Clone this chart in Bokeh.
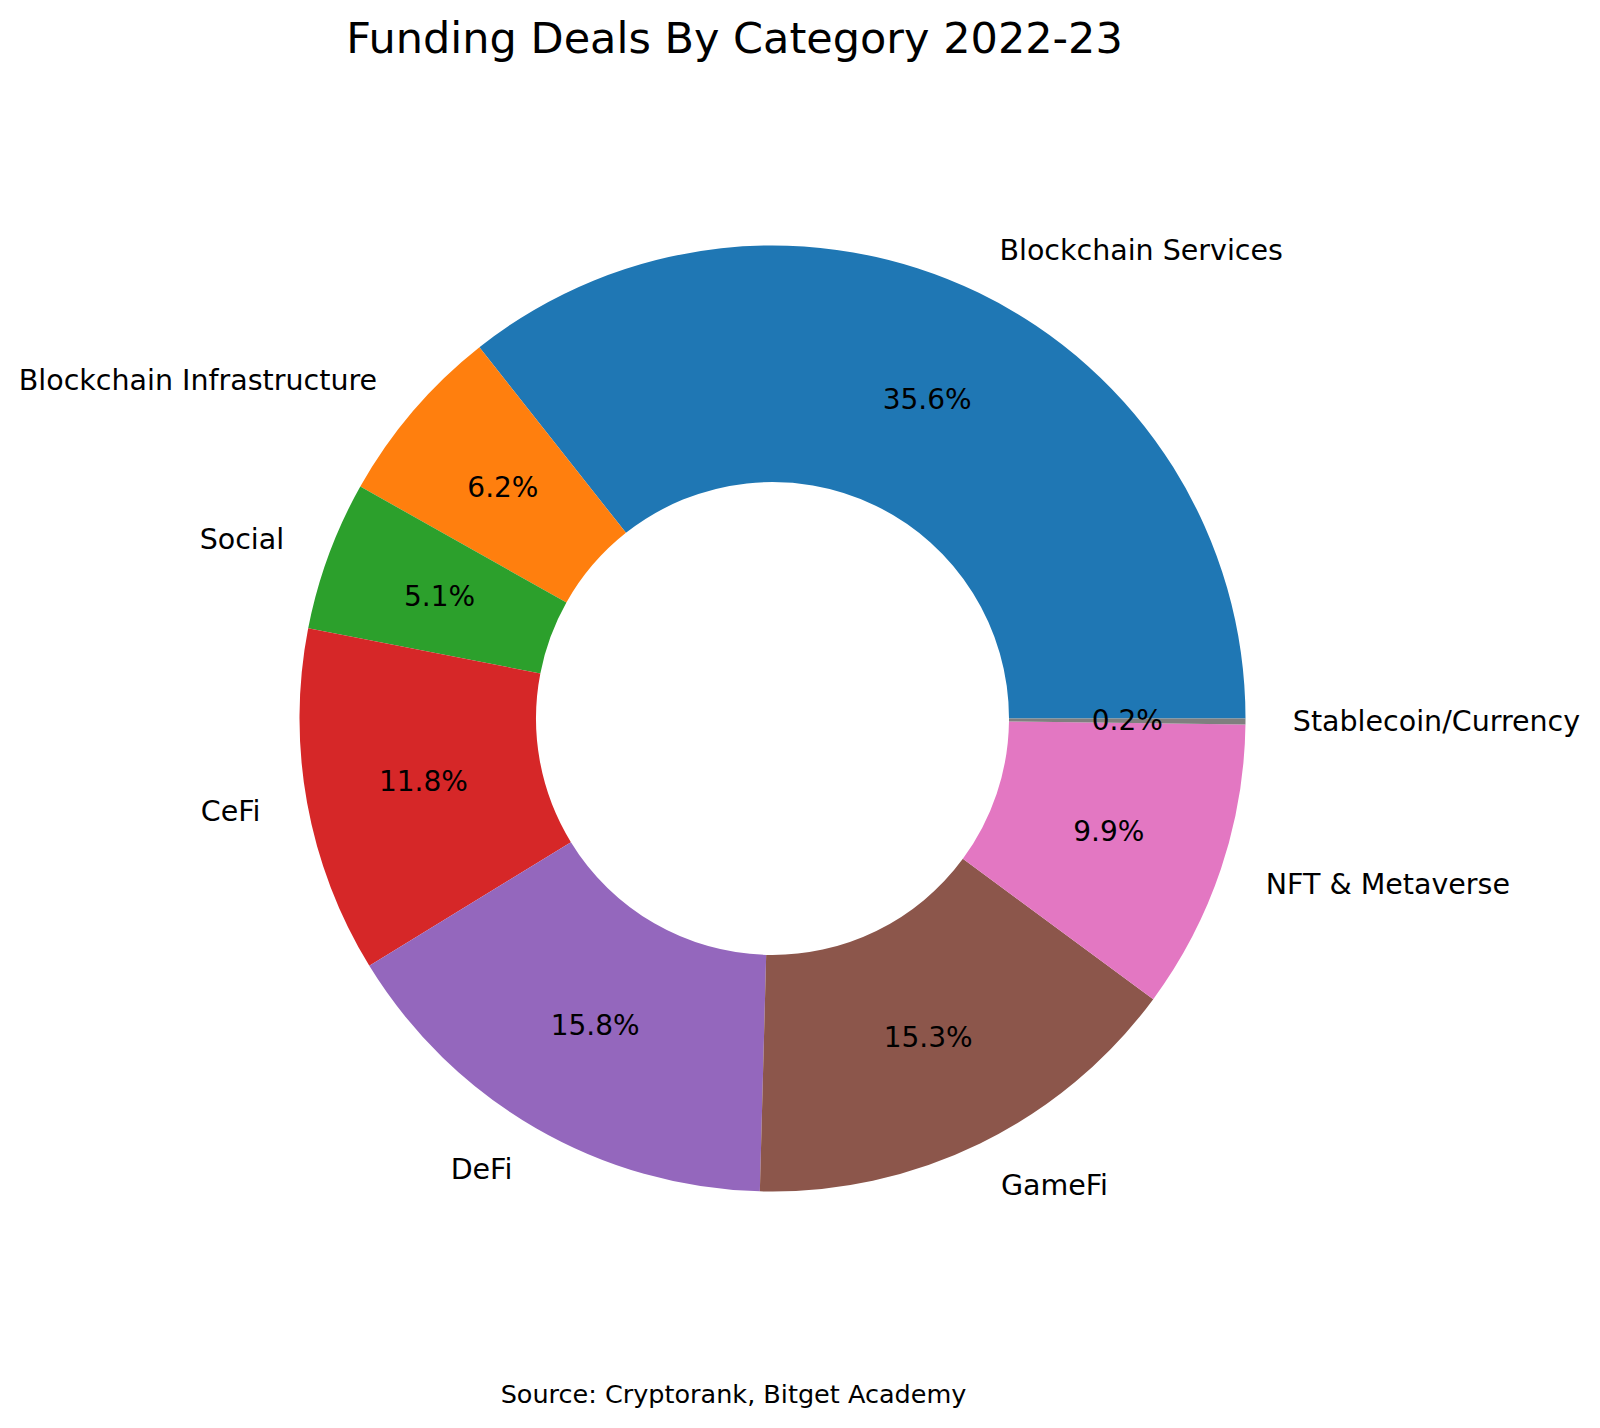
import math
from bokeh.plotting import figure
from bokeh.models import Range1d, ColumnDataSource, Label
from bokeh.core.properties import value
from bokeh.embed import file_html
from bokeh.resources import INLINE

categories = ["Blockchain Services", "Blockchain Infrastructure", "Social", "CeFi",
              "DeFi", "GameFi", "NFT & Metaverse", "Stablecoin/Currency"]
shares = [35.6, 6.2, 5.1, 11.8, 15.8, 15.3, 9.9, 0.2]
pct_labels = ["35.6%", "6.2%", "5.1%", "11.8%", "15.8%", "15.3%", "9.9%", "0.2%"]
colors = ["#1f77b4", "#ff7f0e", "#2ca02c", "#d62728", "#9467bd", "#8c564b", "#e377c2", "#7f7f7f"]
title_text = "Funding Deals By Category 2022-23"
source_text = "Source: Cryptorank, Bitget Academy"

W, H = 1584, 1412
cx, cy = 772, H - 718
R = 473
r_in = R * 0.5
FONT = "DejaVu Sans"

total = sum(shares)
starts, ends = [], []
acc = 0.0
for s in shares:
    starts.append(2 * math.pi * acc / total)
    acc += s
    ends.append(2 * math.pi * acc / total)
mids = [(a + b) / 2 for a, b in zip(starts, ends)]

src = ColumnDataSource(dict(start=starts, end=ends, color=colors))

p = figure(width=W, height=H, output_backend="svg", toolbar_location=None,
           x_range=Range1d(0, W), y_range=Range1d(0, H),
           x_axis_location=None, y_axis_location=None, min_border=0,
           outline_line_color=None, background_fill_color="white")
p.grid.visible = False

p.annular_wedge(x=cx, y=cy, inner_radius=r_in, outer_radius=R,
                start_angle="start", end_angle="end", direction="anticlock",
                fill_color="color", line_color=None, source=src)

# percentage labels
px = [cx + 0.75 * R * math.cos(m) for m in mids]
py = [cy + 0.75 * R * math.sin(m) for m in mids]
p.text(x=px, y=py, text=pct_labels, text_align="center", text_baseline="middle",
       text_font=value(FONT), text_font_size="28px", text_color="black")

# category labels
lx = [cx + 1.1 * R * math.cos(m) for m in mids]
ly = [cy + 1.1 * R * math.sin(m) for m in mids]
left_idx = [i for i in range(len(categories)) if math.cos(mids[i]) >= 0]
right_idx = [i for i in range(len(categories)) if math.cos(mids[i]) < 0]
p.text(x=[lx[i] for i in left_idx], y=[ly[i] for i in left_idx],
       text=[categories[i] for i in left_idx], text_align="left", text_baseline="middle",
       text_font=value(FONT), text_font_size="28.5px", text_color="black")
p.text(x=[lx[i] for i in right_idx], y=[ly[i] for i in right_idx],
       text=[categories[i] for i in right_idx], text_align="right", text_baseline="middle",
       text_font=value(FONT), text_font_size="28.5px", text_color="black")

p.add_layout(Label(x=734, y=H - 37, text=title_text, text_align="center",
                   text_baseline="middle", text_font=FONT, text_font_size="43px",
                   text_color="black"))
p.add_layout(Label(x=733, y=H - 1393, text=source_text, text_align="center",
                   text_baseline="middle", text_font=FONT, text_font_size="25.5px",
                   text_color="black"))

open("out.html", "w").write(file_html(p, INLINE))
